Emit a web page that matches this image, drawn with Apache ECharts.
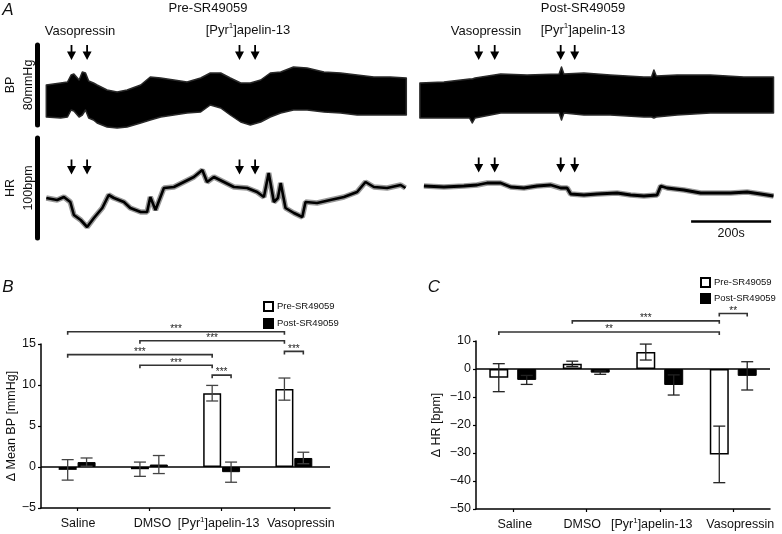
<!DOCTYPE html>
<html><head><meta charset="utf-8">
<script src="https://cdn.jsdelivr.net/npm/echarts@6/dist/echarts.min.js"></script>
<style>html,body{margin:0;padding:0;background:#fff}#c{width:782px;height:534px}</style>
</head><body><div id="c"></div>
<script>
// ---------- Panel A : recordings (time in s, BP in mmHg, HR in bpm) ----------
const bpPreTime  = [22,58,75,84,91,104,112,120,128,140,149,174,199,224,258,282,308,341,374,408,432,458,482,508,532,558,582,608,640,674,716,758,799,841,882,922];
const bpPreUpper = [110,112,113,120,121,115,123,122,114,112,110,105,103,105,110,118,117,115,113,117,122,122,117,112,112,115,122,123,128,127,123,122,120,118,118,117];
const bpPreLower = [78,77,78,85,84,78,80,85,77,75,72,68,67,68,72,75,78,80,82,83,90,87,80,73,70,73,78,82,85,85,83,82,80,80,80,80];

const bpPostTime  = [956,1016,1080,1087,1094,1158,1224,1304,1310,1316,1366,1432,1516,1535,1541,1547,1599,1682,1766,1840];
const bpPostUpper = [112,113,116,116,117,121,120,121,128,121,122,120,118,118,125,119,120,120,118,118];
const bpPostLower = [77,77,77,72,77,82,82,82,75,82,80,80,78,78,77,78,80,82,82,82];

const hrPreTime  = [22,49,66,82,91,108,124,141,162,178,191,216,232,258,274,282,295,316,341,366,391,412,424,441,466,491,524,549,566,578,591,601,608,620,641,662,670,699,732,766,799,820,841,874,908,920];
const hrPreValue = [360,358,361,356,343,338,331,340,350,363,360,356,350,346,346,361,348,370,371,376,381,388,376,381,376,371,370,366,361,385,356,360,375,350,345,341,356,355,358,361,366,376,371,370,373,370];

const hrPostTime  = [966,1016,1066,1099,1124,1158,1183,1216,1249,1283,1308,1324,1333,1366,1399,1449,1483,1516,1549,1558,1574,1616,1658,1699,1733,1774,1808,1840];
const hrPostValue = [372,371,372,373,375,375,371,370,372,373,370,370,364,363,364,365,363,362,363,372,370,368,365,365,365,366,364,362];

const injectionTimesPre  = [85,124,505,544];     // vasopressin x2, apelin x2
const injectionTimesPost = [1103,1143,1308,1343];
const arrowLevelBP = 142.5, arrowLevelHRPre = 391, arrowLevelHRPost = 393;
const scaleBarStart = 1634, scaleBarLength = 200, scaleBarLevel = 337;

// ---------- Panels B & C ----------
const categories = ['Saline','DMSO','[Pyr1]apelin-13','Vasopressin'];
const seriesNames = ['Pre-SR49059','Post-SR49059'];
const bpPreMean  = [-0.35,-0.27,9.0,9.5];
const bpPreErr   = [1.25,0.87,0.95,1.35];
const bpPostMean = [0.6,0.3,-0.63,1.1];
const bpPostErr  = [0.5,1.1,1.23,0.7];
const hrPreMean  = [-3.1,1.85,6.05,-30.5];
const hrPreErr   = [5.0,0.95,2.85,10.1];
const hrPostMean = [-3.9,-1.3,-5.7,-2.45];
const hrPostErr  = [1.6,0.6,3.6,5.05];
// brackets: [category1, series1, category2, series2, level]
const bpBrackets = [[0,0,3,0,16.5],[1,0,3,0,15.4],[0,0,2,0,13.7],[1,0,2,0,12.4],[2,0,2,1,11.2],[3,0,3,1,14.1]];
const bpStars    = ['***','***','***','***','***','***'];
const hrBrackets = [[1,0,3,0,17.2],[0,0,3,0,13.2],[3,0,3,1,19.8]];
const hrStars    = ['***','**','**'];

// ---------- styling ----------
const FONT = '"Liberation Sans", Arial, Helvetica, sans-serif';
const TXT = '#111';
const B_BARW = 18, B_GAP = 0.05;
const C_BARW = 19, C_GAP = 0.47;
const B_LABEL_SHIFT = [1, 3, -3, 7];    // horizontal nudges of category labels (px)
const C_LABEL_SHIFT = [2, -4, -8, 7];

const pairs = (xs, ys) => xs.map((x, i) => [x, ys[i]]);
const minus = v => v < 0 ? '\u2212' + Math.abs(v) : String(v);

function catLabel(shifts) {
  const rich = {};
  shifts.forEach((d, i) => {
    const pl = Math.max(0, 2 * d), pr = Math.max(0, -2 * d);
    const base = { fontSize: 12.5, fontFamily: FONT, color: TXT, lineHeight: 16 };
    rich['o' + i] = Object.assign({ padding: [0, pr, 0, pl] }, base);
    rich['f' + i] = Object.assign({ padding: [0, 0, 0, pl] }, base);
    rich['e' + i] = Object.assign({ padding: [0, pr, 0, 0] }, base);
  });
  rich.s = { fontSize: 8, fontFamily: FONT, color: TXT, verticalAlign: 'top', lineHeight: 10 };
  const formatter = (v, i) => v.indexOf('[Pyr1]') === 0
    ? '{f' + i + '|[Pyr}{s|1}{e' + i + '|]' + v.slice(6) + '}'
    : '{o' + i + '|' + v + '}';
  return { interval: 0, margin: 8, formatter, rich };
}

const arrowPath = 'path://M4,0L6,0L6,7L10,7L5,16L0,7L4,7Z';
function arrowSeries(grid, times, level) {
  return { type: 'scatter', xAxisIndex: grid, yAxisIndex: grid, silent: true, clip: false,
    symbol: arrowPath, symbolSize: [9, 15], itemStyle: { color: '#000', opacity: 1 },
    data: times.map(t => [t, level]) };
}
// one closed polygon through the systolic (upper) and diastolic (lower) envelopes
function bandSeries(times, lower, upper) {
  return { type: 'custom', xAxisIndex: 0, yAxisIndex: 0, silent: true, clip: false,
    encode: { x: 0, y: [1, 2] },
    data: times.map((t, i) => [t, lower[i], upper[i]]),
    renderItem: function (params, api) {
      if (params.dataIndex !== 0) return null;
      const pts = [];
      for (let i = 0; i < times.length; i++) pts.push(api.coord([times[i], upper[i]]));
      for (let i = times.length - 1; i >= 0; i--) pts.push(api.coord([times[i], lower[i]]));
      return { type: 'polygon', shape: { points: pts },
               style: { fill: '#000', stroke: '#2a2a2a', lineWidth: 1.5, lineJoin: 'round' } };
    } };
}

function errRender(offset, color) {
  return function (params, api) {
    const x = api.value(0), m = api.value(1), e = api.value(2);
    const hi = api.coord([x, m + e]), lo = api.coord([x, m - e]);
    const cx = hi[0] + offset, cap = 6;
    const st = { stroke: color, lineWidth: 1.3 };
    return { type: 'group', children: [
      { type: 'line', shape: { x1: cx, y1: hi[1], x2: cx, y2: lo[1] }, style: st },
      { type: 'line', shape: { x1: cx - cap, y1: hi[1], x2: cx + cap, y2: hi[1] }, style: st },
      { type: 'line', shape: { x1: cx - cap, y1: lo[1], x2: cx + cap, y2: lo[1] }, style: st }
    ]};
  };
}
function bracketRender(offsets, stars) {
  return function (params, api) {
    const c1 = api.value(0), s1 = api.value(1), c2 = api.value(2), s2 = api.value(3), lv = api.value(4);
    const p1 = api.coord([c1, lv]), p2 = api.coord([c2, lv]);
    const x1 = p1[0] + offsets[s1], x2 = p2[0] + offsets[s2], y = p1[1];
    return { type: 'group', children: [
      { type: 'polyline', shape: { points: [[x1, y + 3], [x1, y], [x2, y], [x2, y + 3]] },
        style: { stroke: '#333', lineWidth: 1.6, fill: null } },
      { type: 'text', x: (x1 + x2) / 2, y: y - 2.5,
        style: { text: stars[params.dataIndex], align: 'center', verticalAlign: 'middle',
                 fontSize: 10, fontFamily: FONT, fill: '#222' } }
    ]};
  };
}
const errData = (mean, err) => mean.map((m, i) => [i, m, err[i]]);

const bOff = (B_BARW * (1 + B_GAP)) / 2;
const cOff = (C_BARW * (1 + C_GAP)) / 2;

function valueYAxis(grid, min, max, interval, name, nameGap) {
  return { type: 'value', gridIndex: grid, min, max, interval,
    name, nameLocation: 'middle', nameRotate: 90, nameGap,
    nameTextStyle: { fontSize: 12.5, fontFamily: FONT, color: TXT },
    axisLine: { show: true, onZero: false, lineStyle: { color: '#000', width: 1.5 } },
    axisTick: { show: true, length: 3, lineStyle: { color: '#000', width: 1.2 } },
    axisLabel: { fontSize: 12.5, fontFamily: FONT, color: TXT, margin: 5, formatter: minus },
    splitLine: { show: false } };
}
function catXAxis(grid, shifts) {
  return { type: 'category', gridIndex: grid, data: categories,
    axisLine: { show: true, onZero: false, lineStyle: { color: '#000', width: 1.5 } },
    axisTick: { show: true, alignWithLabel: true, length: 3, lineStyle: { color: '#000', width: 1.2 } },
    axisLabel: catLabel(shifts),
    splitLine: { show: false } };
}
function traceYAxis(grid, min, max, name) {
  return { type: 'value', gridIndex: grid, min, max, name, nameLocation: 'middle', nameRotate: 90, nameGap: 0,
    nameTextStyle: { fontSize: 12.5, fontFamily: FONT, color: TXT, lineHeight: 18 },
    axisLine: { show: true, onZero: false, lineStyle: { color: '#000', width: 5 } },
    axisTick: { show: false }, axisLabel: { show: false }, splitLine: { show: false } };
}

const txt = (text, x, y, size, extra) => ({ type: 'text', x, y, silent: true,
  style: Object.assign({ text, fontSize: size, fontFamily: FONT, fill: TXT, align: 'center', verticalAlign: 'middle' }, extra || {}) });
const apelinLabel = (x, y) => txt('{n|[Pyr}{s|1}{n|]apelin-13}', x, y, 13, { rich: {
  n: { fontSize: 13, fontFamily: FONT, fill: TXT, lineHeight: 16 },
  s: { fontSize: 8, fontFamily: FONT, fill: TXT, verticalAlign: 'top', lineHeight: 10 } } });

const gridBase = { containLabel: false, outerBoundsMode: 'none' };
const chart = echarts.init(document.getElementById('c'), null, { renderer: 'canvas' });
chart.setOption({
  animation: false,
  backgroundColor: '#fff',
  grid: [
    Object.assign({ left: 37.5, top: 45, width: 736, height: 80 }, gridBase),
    Object.assign({ left: 37.5, top: 138, width: 736, height: 100 }, gridBase),
    Object.assign({ left: 41, top: 344, width: 289, height: 164 }, gridBase),
    Object.assign({ left: 476, top: 341, width: 294, height: 168 }, gridBase)
  ],
  xAxis: [
    { type: 'value', gridIndex: 0, min: 0, max: 1840, show: false },
    { type: 'value', gridIndex: 1, min: 0, max: 1840, show: false },
    catXAxis(2, B_LABEL_SHIFT), catXAxis(3, C_LABEL_SHIFT)
  ],
  yAxis: [
    traceYAxis(0, 70, 150, 'BP\n80mmHg'),
    traceYAxis(1, 320, 420, 'HR\n100bpm'),
    valueYAxis(2, -5, 15, 5, '\u0394 Mean BP [mmHg]', 23),
    valueYAxis(3, -50, 10, 10, '\u0394 HR [bpm]', 33)
  ],
  legend: [
    { data: seriesNames, left: 263, top: 301, orient: 'vertical', itemWidth: 9, itemHeight: 9, itemGap: 6,
      padding: 0, icon: 'rect', selectedMode: false, textStyle: { fontSize: 9.5, fontFamily: FONT, color: TXT, padding: [0, 0, 0, -1] } },
    { data: seriesNames, left: 700, top: 277, orient: 'vertical', itemWidth: 9, itemHeight: 9, itemGap: 5,
      padding: 0, icon: 'rect', selectedMode: false, textStyle: { fontSize: 9.5, fontFamily: FONT, color: TXT, padding: [0, 0, 0, -1] } }
  ],
  graphic: [
    txt('A', 8, 10, 17, { fontStyle: 'italic' }),
    txt('B', 8, 287, 17, { fontStyle: 'italic' }),
    txt('C', 434, 287, 17, { fontStyle: 'italic' }),
    txt('Pre-SR49059', 208, 8, 13),
    txt('Post-SR49059', 583, 8, 13),
    txt('Vasopressin', 80, 31, 13),
    apelinLabel(248, 30),
    txt('Vasopressin', 486, 31, 13),
    apelinLabel(583, 30)
  ],
  series: [
    // BP traces (pulsatile band between diastolic and systolic envelopes)
    bandSeries(bpPreTime, bpPreLower, bpPreUpper),
    bandSeries(bpPostTime, bpPostLower, bpPostUpper),
    arrowSeries(0, injectionTimesPre.concat(injectionTimesPost), arrowLevelBP),
    // HR traces
    { type: 'line', xAxisIndex: 1, yAxisIndex: 1, symbol: 'none', clip: false, silent: true,
      data: pairs(hrPreTime, hrPreValue), lineStyle: { color: 'rgba(0,0,0,0.4)', width: 5.5 } },
    { type: 'line', xAxisIndex: 1, yAxisIndex: 1, symbol: 'none', clip: false, silent: true,
      data: pairs(hrPreTime, hrPreValue), lineStyle: { color: '#000', width: 2.6 } },
    { type: 'line', xAxisIndex: 1, yAxisIndex: 1, symbol: 'none', clip: false, silent: true,
      data: pairs(hrPostTime, hrPostValue), lineStyle: { color: 'rgba(0,0,0,0.4)', width: 5.5 } },
    { type: 'line', xAxisIndex: 1, yAxisIndex: 1, symbol: 'none', clip: false, silent: true,
      data: pairs(hrPostTime, hrPostValue), lineStyle: { color: '#000', width: 2.8 },
      markLine: { silent: true, symbol: ['none', 'none'], lineStyle: { color: '#000', width: 2.5, type: 'solid' },
        label: { show: true, position: 'insideMiddleBottom', distance: 6, formatter: '200s',
                 fontSize: 12.5, fontFamily: FONT, color: TXT },
        data: [[{ coord: [scaleBarStart, scaleBarLevel] }, { coord: [scaleBarStart + scaleBarLength, scaleBarLevel] }]] } },
    arrowSeries(1, injectionTimesPre, arrowLevelHRPre),
    arrowSeries(1, injectionTimesPost, arrowLevelHRPost),
    // Panel B bars
    { type: 'bar', name: seriesNames[0], xAxisIndex: 2, yAxisIndex: 2, data: bpPreMean, barWidth: B_BARW,
      barGap: (B_GAP * 100) + '%', itemStyle: { color: '#fff', borderColor: '#000', borderWidth: 1.5 },
      markLine: { silent: true, symbol: ['none', 'none'], label: { show: false },
        lineStyle: { color: '#000', width: 1.5, type: 'solid' }, data: [{ yAxis: 0 }] } },
    { type: 'bar', name: seriesNames[1], xAxisIndex: 2, yAxisIndex: 2, data: bpPostMean, barWidth: B_BARW,
      barGap: (B_GAP * 100) + '%', itemStyle: { color: '#000', borderColor: '#000', borderWidth: 1 } },
    { type: 'custom', xAxisIndex: 2, yAxisIndex: 2, renderItem: errRender(-bOff, '#444'), silent: true, z: 5,
      encode: { x: 0, y: 1 }, data: errData(bpPreMean, bpPreErr) },
    { type: 'custom', xAxisIndex: 2, yAxisIndex: 2, renderItem: errRender(bOff, '#444'), silent: true, z: 5,
      encode: { x: 0, y: 1 }, data: errData(bpPostMean, bpPostErr) },
    { type: 'custom', xAxisIndex: 2, yAxisIndex: 2, renderItem: bracketRender([-bOff, bOff], bpStars), silent: true, clip: false,
      encode: { x: 0, y: 4 }, data: bpBrackets },
    // Panel C bars
    { type: 'bar', name: seriesNames[0], xAxisIndex: 3, yAxisIndex: 3, data: hrPreMean, barWidth: C_BARW,
      barGap: (C_GAP * 100) + '%', itemStyle: { color: '#fff', borderColor: '#000', borderWidth: 1.5 },
      markLine: { silent: true, symbol: ['none', 'none'], label: { show: false },
        lineStyle: { color: '#000', width: 1.5, type: 'solid' }, data: [{ yAxis: 0 }] } },
    { type: 'bar', name: seriesNames[1], xAxisIndex: 3, yAxisIndex: 3, data: hrPostMean, barWidth: C_BARW,
      barGap: (C_GAP * 100) + '%', itemStyle: { color: '#000', borderColor: '#000', borderWidth: 1 } },
    { type: 'custom', xAxisIndex: 3, yAxisIndex: 3, renderItem: errRender(-cOff, '#222'), silent: true, z: 5,
      encode: { x: 0, y: 1 }, data: errData(hrPreMean, hrPreErr) },
    { type: 'custom', xAxisIndex: 3, yAxisIndex: 3, renderItem: errRender(cOff, '#222'), silent: true, z: 5,
      encode: { x: 0, y: 1 }, data: errData(hrPostMean, hrPostErr) },
    { type: 'custom', xAxisIndex: 3, yAxisIndex: 3, renderItem: bracketRender([-cOff, cOff], hrStars), silent: true, clip: false,
      encode: { x: 0, y: 4 }, data: hrBrackets }
  ]
});
</script></body></html>
